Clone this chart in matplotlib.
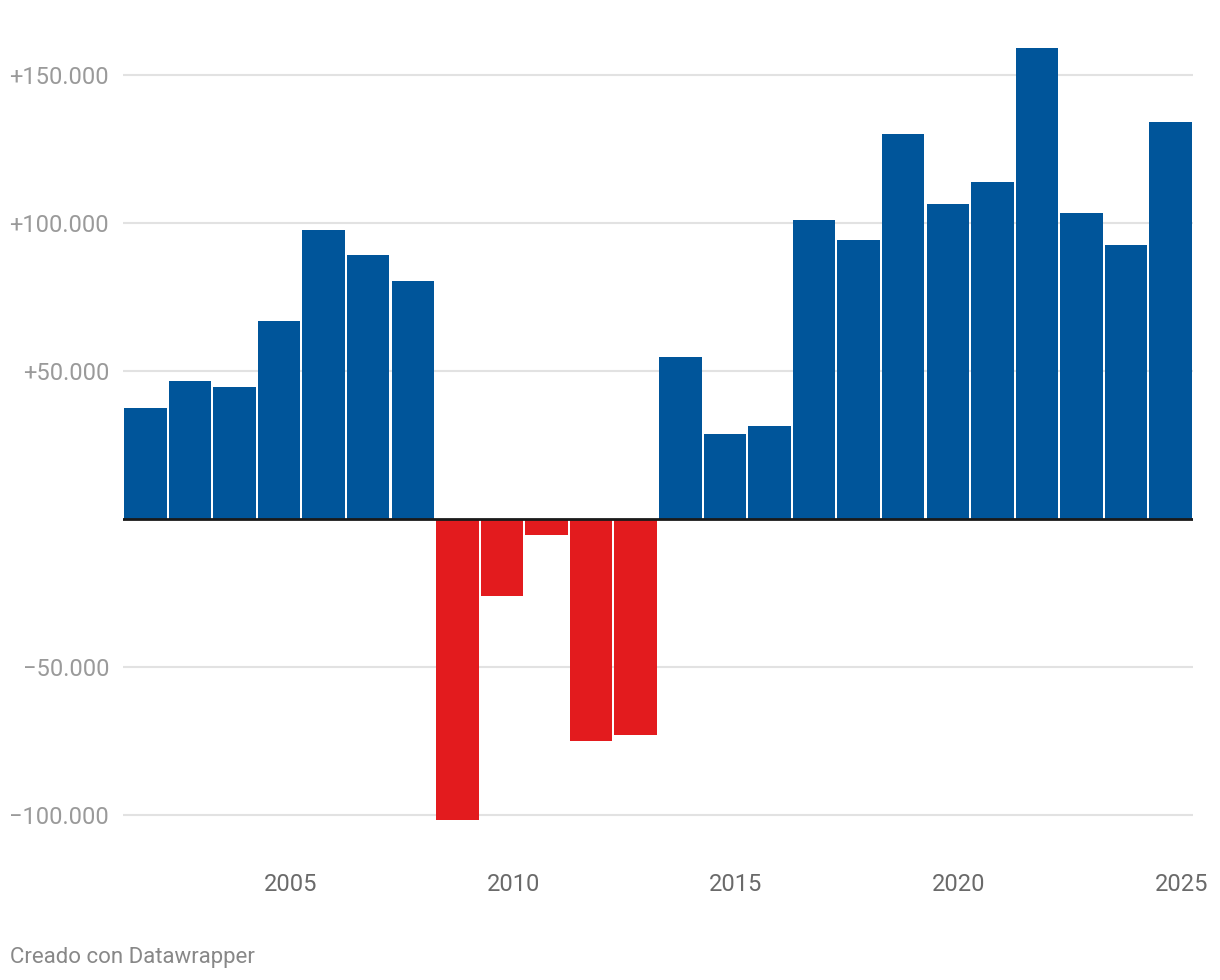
import matplotlib.pyplot as plt
import matplotlib.ticker as mticker

plt.rcParams['font.family'] = ['Roboto', 'DejaVu Sans']

years = list(range(2002, 2026))
values = [37500, 46600, 44600, 66900, 97600, 89200, 80400,
          -101700, -26000, -5400, -75000, -73000,
          54700, 28700, 31400, 101000, 94300, 130000, 106400,
          113900, 159100, 103400, 92600, 134100]
tick_years = [2005, 2010, 2015, 2020, 2025]
y_ticks = [-100000, -50000, 50000, 100000, 150000]

blue = '#00559a'
red = '#e31b1e'

fig = plt.figure(figsize=(12.2, 9.8), dpi=100)
ax = fig.add_axes([123 / 1220, 1 - 840 / 980, 1070 / 1220, 820 / 980])

x = list(range(len(years)))
colors = [blue if v >= 0 else red for v in values]
ax.bar(x, values, width=0.955, color=colors, zorder=3)

ax.set_xlim(-0.5, len(years) - 0.5)
ax.set_ylim(-108450, 168580)

ax.set_yticks(y_ticks)
ax.yaxis.set_major_formatter(mticker.FuncFormatter(
    lambda v, p: ('+' if v > 0 else '\u2212') + f'{abs(int(v)):,}'.replace(',', '.')))
ax.grid(axis='y', color='#e2e2e2', linewidth=1.5, zorder=0)
ax.axhline(0, color='#1a1a1a', linewidth=2, zorder=4)
ax.tick_params(axis='y', length=0, pad=10, labelsize=17, labelcolor='#9a9a9a')

ax.set_xticks([y - 2002 + 0.25 for y in tick_years])
ax.set_xticklabels([str(y) for y in tick_years])
ax.tick_params(axis='x', length=0, pad=24, labelsize=17, labelcolor='#6a6a6a')

for s in ax.spines.values():
    s.set_visible(False)

fig.text(10 / 1220, 1 - 957 / 980, 'Creado con Datawrapper', fontsize=16,
         color='#888888', va='center', ha='left')

fig.savefig('out.png', dpi=100)
